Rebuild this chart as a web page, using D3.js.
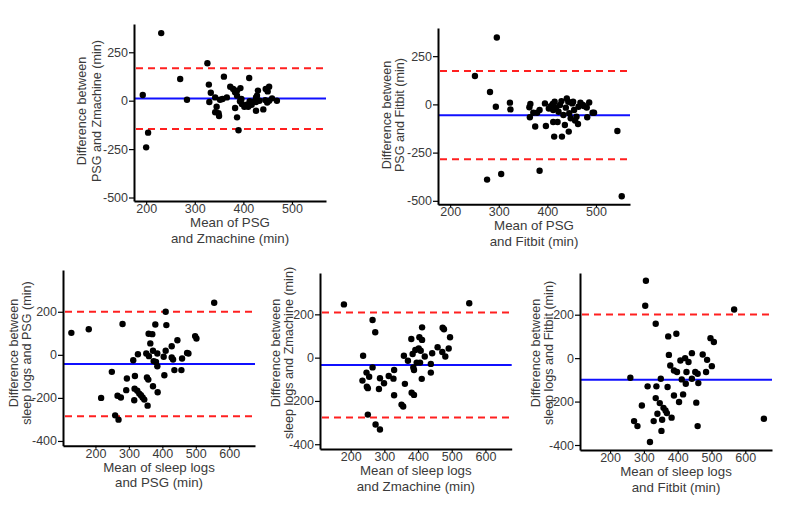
<!DOCTYPE html>
<html>
<head>
<meta charset="utf-8">
<script src="https://cdn.jsdelivr.net/npm/d3@7"></script>
<style>
  html, body { margin: 0; padding: 0; background: #fff; }
  svg { display: block; font-family: Arial, "Liberation Sans", sans-serif; }
</style>
</head>
<body>
<svg id="chart" width="800" height="511"></svg>
<script>
// ---------- DATA ----------
// Panel 1: PSG vs Zmachine
const p1X = [193,231,326,270,284,204,200,329,333,330,342,349,350,345,342,352,360,357,366,373,379,383,387,394,387,383,387,390,396,397,402,407,412,413,417,423,426,428,430,433,426,426,441,446,450,453,445,449,453,459,469,410,393];
const p1Y = [29,349,193,112,5,-165,-241,83,41,-7,-60,-65,-79,-31,17,5,124,9,17,72,60,43,52,65,26,-38,-86,-153,9,-17,-31,-21,117,-3,-21,-3,17,26,52,0,-52,-7,-45,60,48,72,3,-10,0,12,0,-31,-3];
// Panel 2: PSG vs Fitbit
const p2X = [251,296,282,294,323,324,276,305,384,544,553,363,365,364,371,375,379,384,395,397,403,407,411,412,415,414,412,418,421,423,426,429,430,433,436,438,440,443,444,445,448,451,453,455,457,460,463,464,468,473,475,481,482,486,493,496];
const p2Y = [147,347,64,-12,9,-26,-390,-361,-344,-138,-476,-15,2,-67,-43,-115,-43,-29,5,-112,-21,-9,2,-29,14,-167,-91,-16,-91,-38,-3,17,-167,-55,-107,-17,31,14,-141,-46,-72,5,14,-29,-84,-64,-102,-12,9,-3,-9,-16,-67,10,-43,-43];
// Panel 3: sleep logs vs PSG
const p3X = [128,180,217,281,249,266,276,259,269,294,292,327,313,318,317,316,325,331,336,341,346,354,358,356,352,359,364,360,370,372,374,372,379,381,385,385,386,404,406,410,410,412,428,428,432,436,445,457,459,474,478,498,502,555];
const p3Y = [102,119,-200,143,-79,-190,-198,-281,-301,-110,-164,3,-25,-98,-157,-211,-167,-180,-188,-198,-208,-105,-115,-236,6,98,53,-6,96,19,-29,-146,141,-33,-53,6,-174,-9,-95,200,19,138,40,-12,-22,-71,68,-71,-17,9,6,87,76,242];
// Panel 4: sleep logs vs Zmachine
const p4X = [180,552,265,273,237,265,235,247,255,248,251,251,274,287,284,287,299,313,327,329,351,356,329,358,361,370,380,384,386,388,381,388,392,396,402,404,406,408,412,412,411,420,438,438,442,458,472,473,477,481,491,495];
const p4Y = [246,251,174,117,9,-45,-106,-69,-88,-134,-141,-263,-309,-332,-145,-95,-118,-85,-97,-174,-217,-226,-57,9,-121,-14,86,17,-45,-57,-162,-172,35,-23,43,94,-23,32,82,140,-98,5,-29,-69,20,48,26,138,131,5,42,94];
// Panel 5: sleep logs vs Fitbit
const p5X = [306,304,335,567,260,271,281,294,318,311,329,337,335,340,347,350,352,354,358,364,368,372,370,374,378,382,389,389,396,398,404,408,412,416,422,424,426,432,442,442,452,455,459,459,461,474,484,487,497,501,507,655];
const p5Y = [356,241,158,224,-90,-290,-313,-218,-386,-130,-290,-130,-184,-256,-207,-95,-335,-284,-229,-241,-253,100,-133,15,-34,-274,-172,-57,112,-64,-202,-11,-98,-167,0,-118,-64,-18,23,-95,-64,-205,-72,-313,-115,17,-64,-8,92,-37,74,-279];

// Bland-Altman lines: mean difference and limits of agreement
const meanDiff = [11, -56, -42, -34, -100];
const upperLoA = [168, 173, 200, 208, 201];
const lowerLoA = [-146, -285, -285, -276, null];

// Tick labels
const xTicksTop = [200, 300, 400, 500];
const yTicksTop = [-500, -250, 0, 250];
const xTicksBottom = [200, 300, 400, 500, 600];
const yTicksBottom = [-400, -200, 0, 200];

// Axis titles
const yTitles = [
  ["Difference between", "PSG and Zmachine (min)"],
  ["Difference between", "PSG and Fitbit (min)"],
  ["Difference between", "sleep logs and PSG (min)"],
  ["Difference between", "sleep logs and Zmachine (min)"],
  ["Difference between", "sleep logs and Fitbit (min)"]
];
const xTitles = [
  ["Mean of PSG", "and Zmachine (min)"],
  ["Mean of PSG", "and Fitbit (min)"],
  ["Mean of sleep logs", "and PSG (min)"],
  ["Mean of sleep logs", "and Zmachine (min)"],
  ["Mean of sleep logs", "and Fitbit (min)"]
];

// ---------- LAYOUT ----------
const layout = [
  { xs: p1X, ys: p1Y, x0: 134, x1: 326, y0: 24, y1: 201, xd: [175, 570], yd: [-518, 396], xt: xTicksTop, yt: yTicksTop, ytx: [82, 96.5], ytc: 111 },
  { xs: p2X, ys: p2Y, x0: 438, x1: 630, y0: 28, y1: 204.3, xd: [175, 570], yd: [-518, 396], xt: xTicksTop, yt: yTicksTop, ytx: [387, 400], ytc: 115 },
  { xs: p3X, ys: p3Y, x0: 63, x1: 255, y0: 270, y1: 445.7, xd: [103, 677], yd: [-422, 394], xt: xTicksBottom, yt: yTicksBottom, ytx: [13.5, 26.5], ytc: 353 },
  { xs: p4X, ys: p4Y, x0: 320, x1: 511.7, y0: 273, y1: 449, xd: [109, 678], yd: [-422, 391], xt: xTicksBottom, yt: yTicksBottom, ytx: [275.5, 288.5], ytc: 353 },
  { xs: p5X, ys: p5Y, x0: 580, x1: 772, y0: 273, y1: 450, xd: [111, 679], yd: [-423, 392], xt: xTicksBottom, yt: yTicksBottom, ytx: [535.5, 548.5], ytc: 353 }
];

const svg = d3.select("#chart");
const textColor = "#3a3a3a";

layout.forEach((p, i) => {
  const x = d3.scaleLinear().domain(p.xd).range([p.x0, p.x1]);
  const y = d3.scaleLinear().domain(p.yd).range([p.y1, p.y0]);
  const g = svg.append("g");

  // mean and limits of agreement
  g.append("line")
    .attr("x1", p.x0).attr("x2", p.x1)
    .attr("y1", y(meanDiff[i])).attr("y2", y(meanDiff[i]))
    .attr("stroke", "#1010ff").attr("stroke-width", 2);
  [upperLoA[i], lowerLoA[i]].forEach(v => {
    if (v === null) return;
    g.append("line")
      .attr("x1", p.x0 + 2).attr("x2", p.x1)
      .attr("y1", y(v)).attr("y2", y(v))
      .attr("stroke", "#ff2020").attr("stroke-width", 2)
      .attr("stroke-dasharray", "7,5");
  });

  // points
  g.append("g").selectAll("circle")
    .data(p.xs.map((d, k) => [d, p.ys[k]]))
    .join("circle")
    .attr("cx", d => x(d[0])).attr("cy", d => y(d[1]))
    .attr("r", 3.2).attr("fill", "#000");

  // axes
  const ya = g.append("g").attr("transform", `translate(${p.x0},0)`)
    .call(d3.axisLeft(y).tickValues(p.yt).tickSize(5).tickSizeOuter(0).tickPadding(1).tickFormat(d3.format("d")));
  const xa = g.append("g").attr("transform", `translate(0,${p.y1})`)
    .call(d3.axisBottom(x).tickValues(p.xt).tickSize(3).tickSizeOuter(0).tickPadding(0).tickFormat(d3.format("d")));
  [ya, xa].forEach(a => {
    a.select(".domain").attr("stroke", "#000").attr("stroke-width", 2);
    a.selectAll(".tick line").attr("stroke", "#000").attr("stroke-width", 1.2);
    a.selectAll(".tick text").attr("fill", textColor).style("font-size", "12.5px");
  });
  ya.selectAll(".tick text").text(d => d < 0 ? "-" + Math.abs(d) : d);

  // x title
  const cx = (p.x0 + p.x1) / 2;
  xTitles[i].forEach((t, k) => {
    g.append("text")
      .attr("x", cx).attr("y", p.y1 + 21.5 + k * 15.5)
      .attr("text-anchor", "middle").attr("dominant-baseline", "central")
      .attr("fill", textColor).style("font-size", "13.3px")
      .text(t);
  });
  // y title
  yTitles[i].forEach((t, k) => {
    g.append("text")
      .attr("transform", `translate(${p.ytx[k]},${p.ytc}) rotate(-90)`)
      .attr("text-anchor", "middle").attr("dominant-baseline", "central")
      .attr("fill", textColor).style("font-size", "12.6px")
      .text(t);
  });
});
</script>
</body>
</html>
